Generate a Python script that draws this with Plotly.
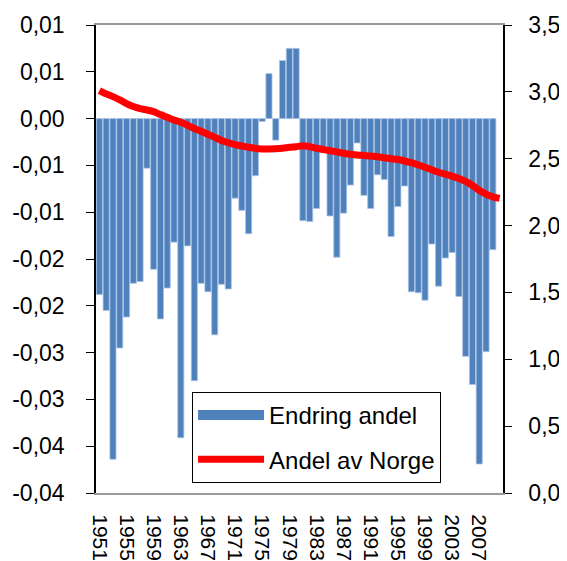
import plotly.graph_objects as go

years = list(range(1951, 2011))

endring_andel = [
    -0.0188, -0.0205, -0.0364, -0.0245, -0.0212, -0.0176, -0.0174, -0.0053, -0.0161, -0.0214,
    -0.0181, -0.0132, -0.0341, -0.0136, -0.0280, -0.0176, -0.0185, -0.0231, -0.0177, -0.0182,
    -0.0085, -0.0098, -0.0123, -0.0061, -0.0003, 0.0048, -0.0023, 0.0062, 0.0075, 0.0075,
    -0.0109, -0.0110, -0.0096, -0.0036, -0.0104, -0.0148, -0.0101, -0.0071, -0.0026, -0.0082,
    -0.0096, -0.0060, -0.0065, -0.0126, -0.0094, -0.0072, -0.0185, -0.0186, -0.0194, -0.0134,
    -0.0179, -0.0149, -0.0143, -0.0190, -0.0254, -0.0284, -0.0369, -0.0249, -0.0140, None,
]

andel_av_norge = [
    3.01, 2.985, 2.964, 2.94, 2.912, 2.89, 2.874, 2.864, 2.852, 2.83,
    2.81, 2.79, 2.773, 2.75, 2.726, 2.706, 2.683, 2.66, 2.637, 2.62,
    2.605, 2.595, 2.586, 2.577, 2.573, 2.573, 2.574, 2.578, 2.585, 2.59,
    2.597, 2.59, 2.578, 2.569, 2.56, 2.551, 2.541, 2.534, 2.528, 2.524,
    2.52, 2.514, 2.507, 2.5, 2.494, 2.483, 2.47, 2.454, 2.436, 2.417,
    2.399, 2.385, 2.37, 2.352, 2.33, 2.30, 2.264, 2.235, 2.214, 2.203,
]

x_label_years = list(range(1951, 2008, 4))
x_label_text = [str(y) for y in x_label_years]

left_tick_vals = [0.01, 0.005, 0.0, -0.005, -0.01, -0.015, -0.02, -0.025, -0.03, -0.035, -0.04]
left_tick_text = ["0,01", "0,01", "0,00", "-0,01", "-0,01", "-0,02", "-0,02", "-0,03", "-0,03", "-0,04", "-0,04"]

right_tick_vals = [0, 0.5, 1.0, 1.5, 2.0, 2.5, 3.0, 3.5]
right_tick_text = ["0,0", "0,5", "1,0", "1,5", "2,0", "2,5", "3,0", "3,5"]

BLUE = "#4F81BD"
RED = "#FF0000"
FONT = "Liberation Sans, Arial, sans-serif"
TICK_SIZE = 23

fig = go.Figure()

fig.add_trace(go.Bar(
    x=years, y=endring_andel, name="Endring andel",
    marker=dict(color=BLUE, line=dict(color="#A9C2E2", width=0.8)),
    xaxis="x", yaxis="y", showlegend=False,
))

# legend swatch for the bars (wide blue block like the original)
fig.add_trace(go.Scatter(
    x=[None], y=[None], mode="lines", name="Endring andel",
    line=dict(color=BLUE, width=13), xaxis="x", yaxis="y",
    legendgroup="a", showlegend=True,
))

fig.add_trace(go.Scatter(
    x=years, y=andel_av_norge, mode="lines", name="Andel av Norge",
    line=dict(color=RED, width=7, shape="spline", smoothing=0.6),
    xaxis="x", yaxis="y2", legendgroup="b",
))

xr = [1950.5, 2010.5]

fig.update_layout(
    width=559, height=553,
    margin=dict(l=88, r=64, t=17, b=68),
    paper_bgcolor="white", plot_bgcolor="white",
    font=dict(family=FONT, size=TICK_SIZE, color="black"),
    bargap=0.1,
    showlegend=True,
    legend=dict(
        x=0.236, y=0.216, xanchor="left", yanchor="top",
        bgcolor="white", bordercolor="black", borderwidth=1,
        font=dict(family=FONT, size=24, color="black"),
        traceorder="grouped", tracegroupgap=10,
        itemwidth=66,
    ),
    xaxis=dict(
        range=xr, showgrid=False, zeroline=False,
        showline=True, linecolor="#9A9A9A", linewidth=2, mirror=True,
        tickmode="array", tickvals=x_label_years, ticktext=x_label_text,
        tickangle=90, ticks="", ticklabelstandoff=15,
        tickfont=dict(family=FONT, size=21, color="black"),
        automargin=False,
    ),
    xaxis2=dict(
        overlaying="x", anchor="free", position=0.8, range=xr,
        showgrid=False, zeroline=False, showline=True, linecolor="black", linewidth=1.5,
        tickmode="linear", tick0=1950.5, dtick=1, ticks="outside", ticklen=6,
        tickwidth=1.2, tickcolor="black", showticklabels=False, layer="above traces",
    ),
    xaxis3=dict(
        overlaying="x", anchor="free", position=0.8, range=xr,
        showgrid=False, zeroline=False, showline=False,
        tickmode="linear", tick0=1950.5, dtick=1, ticks="inside", ticklen=6,
        tickwidth=1.2, tickcolor="black", showticklabels=False, layer="above traces",
    ),
    yaxis=dict(
        range=[-0.04, 0.01], showgrid=False, zeroline=False,
        showline=True, linecolor="black", linewidth=1.5,
        tickmode="array", tickvals=left_tick_vals, ticktext=left_tick_text,
        ticks="outside", ticklen=8, tickcolor="black", tickwidth=1.2,
        ticklabelstandoff=17, automargin=False,
    ),
    yaxis2=dict(
        overlaying="y", side="right", anchor="x",
        range=[0, 3.5], showgrid=False, zeroline=False,
        showline=True, linecolor="black", linewidth=1.5,
        tickmode="array", tickvals=right_tick_vals, ticktext=right_tick_text,
        ticks="outside", ticklen=7, tickcolor="black", tickwidth=1.2,
        ticklabelstandoff=12, automargin=False,
    ),
)

fig.write_html("out.html")
